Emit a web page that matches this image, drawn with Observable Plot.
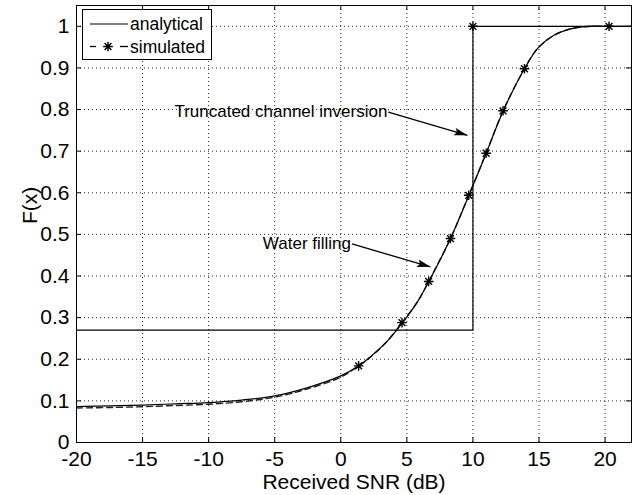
<!DOCTYPE html>
<html>
<head>
<meta charset="utf-8">
<script src="https://cdn.jsdelivr.net/npm/d3@7"></script>
<script src="https://cdn.jsdelivr.net/npm/@observablehq/plot@0.6"></script>
<style>
  body { margin: 0; background: #fff; }
  #chart { width: 639px; height: 495px; }
  #chart svg { font-family: "Liberation Sans", Arial, Helvetica, sans-serif; background: #fff; }
</style>
</head>
<body>
<div id="chart"></div>
<script>
// Axis ticks
const xTicks = [-20, -15, -10, -5, 0, 5, 10, 15, 20];
const xTickLabels = ["-20", "-15", "-10", "-5", "0", "5", "10", "15", "20"];
const yTicks = [0, 0.1, 0.2, 0.3, 0.4, 0.5, 0.6, 0.7, 0.8, 0.9, 1];
const yTickLabels = ["0", "0.1", "0.2", "0.3", "0.4", "0.5", "0.6", "0.7", "0.8", "0.9", "1"];

// Water filling: analytical CDF of the received SNR
const wfX = [-20, -17.5, -15, -12.5, -10, -7.5, -5, -2.5, 0, 1.3, 2.2, 3.5, 4.6, 5.8, 6.65, 8.3, 9.7, 11, 12.3, 13.9, 14.9, 16.1, 17.4, 18.6, 20, 22];
const wfAnalytical = [0.086, 0.088, 0.090, 0.093, 0.096, 0.102, 0.112, 0.132, 0.160, 0.183, 0.205, 0.243, 0.285, 0.338, 0.386, 0.490, 0.594, 0.695, 0.797, 0.898, 0.947, 0.978, 0.994, 1.0, 1.0, 1.0];

// Water filling: simulated CDF
const simX = [-20, -17.5, -15, -12.5, -10, -7.5, -5, -2.5, 0, 1.35, 2.2, 3.5, 4.63, 5.8, 6.65, 8.3, 9.68, 11, 12.28, 13.9, 14.9, 16.1, 17.4, 18.6, 20.3];
const simY = [0.083, 0.084, 0.086, 0.089, 0.092, 0.098, 0.109, 0.129, 0.157, 0.184, 0.204, 0.243, 0.288, 0.338, 0.387, 0.490, 0.594, 0.695, 0.797, 0.898, 0.947, 0.978, 0.994, 0.999, 1.0];

// Simulated sample markers
const markerX = [1.35, 4.63, 6.65, 8.3, 9.68, 11.0, 12.28, 13.9, 20.3, 10];
const markerY = [0.184, 0.288, 0.387, 0.490, 0.594, 0.695, 0.797, 0.898, 1.0, 1.0];

// Truncated channel inversion CDF (step)
const tciX = [-20, 10, 10, 22];
const tciY = [0.27, 0.27, 1, 1];

// Annotation labels and their arrows (start -> tip)
const noteLabels = ["Truncated channel inversion", "Water filling"];
const noteX1 = [3.6, 0.85];
const noteY1 = [0.794, 0.477];
const noteX2 = [9.58, 6.78];
const noteY2 = [0.738, 0.422];

// Layout
const W = 639, H = 495;
const M = {top: 5, right: 8, bottom: 53, left: 76};
const xDomain = [-20, 22];
const yDomain = [0, 1.05];
const innerW = W - M.left - M.right;
const innerH = H - M.top - M.bottom;
const kx = innerW / (xDomain[1] - xDomain[0]);
const ky = innerH / (yDomain[1] - yDomain[0]);
const tickPx = 5;
const tdx = tickPx / kx, tdy = tickPx / ky;

const zip = (xs, ys) => xs.map((x, i) => ({x, y: ys[i]}));
const analytical = zip(wfX, wfAnalytical);
const simulated = zip(simX, simY);
const markers = zip(markerX, markerY);
const tci = zip(tciX, tciY);
const notes = noteLabels.map((label, i) => ({label, x1: noteX1[i], y1: noteY1[i], x2: noteX2[i], y2: noteY2[i]}));

// Eight-armed star marker
const star8 = {
  draw(ctx, size) {
    const r = Math.sqrt(size / Math.PI), d = r * Math.SQRT1_2;
    ctx.moveTo(-r, 0); ctx.lineTo(r, 0);
    ctx.moveTo(0, -r); ctx.lineTo(0, r);
    ctx.moveTo(-d, -d); ctx.lineTo(d, d);
    ctx.moveTo(-d, d); ctx.lineTo(d, -d);
  }
};

// Filled arrowhead with its tip at the origin, pointing along angle
function arrowHead(angle) {
  return {
    draw(ctx, size) {
      const r = Math.sqrt(size / Math.PI);
      const L = 2.2 * r, w = 0.65 * r, b = 1.8 * r;
      const c = Math.cos(angle), s = Math.sin(angle);
      const pt = (x, y) => [x * c - y * s, x * s + y * c];
      ctx.moveTo(0, 0);
      ctx.lineTo(...pt(-L, -w));
      ctx.lineTo(...pt(-b, 0));
      ctx.lineTo(...pt(-L, w));
      ctx.closePath();
    }
  };
}

const gridStyle = {stroke: "#000", strokeOpacity: 0.85, strokeDasharray: "1,3", strokeWidth: 1};
const fontSize = 21;
const starR = 4.8;

const chart = Plot.plot({
  width: W,
  height: H,
  marginTop: M.top,
  marginRight: M.right,
  marginBottom: M.bottom,
  marginLeft: M.left,
  x: {domain: xDomain, label: null},
  y: {domain: yDomain, label: null},
  marks: [
    Plot.gridX(xTicks.filter(t => t > xDomain[0]), gridStyle),
    Plot.gridY(yTicks.filter(t => t > yDomain[0]), gridStyle),
    Plot.line(tci, {x: "x", y: "y", stroke: "#000", strokeWidth: 1.2}),
    Plot.line(simulated, {x: "x", y: "y", curve: "catmull-rom", stroke: "#222", strokeWidth: 1.4, strokeDasharray: "6,4"}),
    Plot.line(analytical, {x: "x", y: "y", curve: "catmull-rom", stroke: "#000", strokeWidth: 1.2}),
    Plot.dot(markers, {x: "x", y: "y", symbol: star8, r: starR, fill: "none", stroke: "#000", strokeWidth: 1.4}),
    Plot.link(notes, {x1: "x1", y1: "y1", x2: "x2", y2: "y2", stroke: "#000", strokeWidth: 1.3}),
    ...notes.map(n => Plot.dot([n], {
      x: "x2", y: "y2", r: 6, fill: "#000", stroke: "none",
      symbol: arrowHead(Math.atan2(-(n.y2 - n.y1) * ky, (n.x2 - n.x1) * kx))
    })),
    Plot.text(notes, {x: "x1", y: "y1", text: "label", textAnchor: "end", dx: -1, fontSize: 17, fill: "#000"}),
    Plot.frame({stroke: "#000", strokeWidth: 1}),
    // inward ticks on all four sides
    Plot.ruleX(xTicks, {y1: yDomain[0], y2: yDomain[0] + tdy, stroke: "#000"}),
    Plot.ruleX(xTicks, {y1: yDomain[1], y2: yDomain[1] - tdy, stroke: "#000"}),
    Plot.ruleY(yTicks, {x1: xDomain[0], x2: xDomain[0] + tdx, stroke: "#000"}),
    Plot.ruleY(yTicks, {x1: xDomain[1], x2: xDomain[1] - tdx, stroke: "#000"}),
    Plot.axisX(xTicks, {tickSize: 0, tickPadding: 9, fontSize, fill: "#000", label: null,
      tickFormat: d => xTickLabels[xTicks.indexOf(d)]}),
    Plot.axisY(yTicks, {tickSize: 0, tickPadding: 7, fontSize, fill: "#000", label: null,
      tickFormat: d => yTickLabels[yTicks.indexOf(d)]}),
    Plot.text(["Received SNR (dB)"], {frameAnchor: "bottom", lineAnchor: "middle", dy: 40, fontSize, fill: "#000"}),
    Plot.text(["F(x)"], {frameAnchor: "left", lineAnchor: "middle", rotate: -90, dx: -46, fontSize, fill: "#000"})
  ]
});

document.getElementById("chart").append(chart);

// Legend box in the upper-left corner of the axes
const svg = d3.select(chart);
const lg = svg.append("g")
  .attr("font-size", 17.5)
  .attr("text-anchor", "start")
  .attr("fill", "#000");
lg.append("rect").attr("x", 82.5).attr("y", 9.5).attr("width", 129).attr("height", 50)
  .attr("fill", "#fff").attr("stroke", "#000");
lg.append("line").attr("x1", 90).attr("x2", 128).attr("y1", 24).attr("y2", 24)
  .attr("stroke", "#000").attr("stroke-width", 1.2);
lg.append("text").attr("x", 130).attr("y", 24).attr("dy", "0.35em").text("analytical");
lg.append("line").attr("x1", 90).attr("x2", 96).attr("y1", 46.5).attr("y2", 46.5)
  .attr("stroke", "#000").attr("stroke-width", 1.3);
lg.append("line").attr("x1", 120).attr("x2", 128).attr("y1", 46.5).attr("y2", 46.5)
  .attr("stroke", "#000").attr("stroke-width", 1.3);
const sp = d3.path();
star8.draw(sp, Math.PI * starR * starR);
lg.append("path").attr("d", sp.toString()).attr("transform", "translate(108,46.5)")
  .attr("fill", "none").attr("stroke", "#000").attr("stroke-width", 1.4);
lg.append("text").attr("x", 130).attr("y", 46.5).attr("dy", "0.35em").text("simulated");
</script>
</body>
</html>
